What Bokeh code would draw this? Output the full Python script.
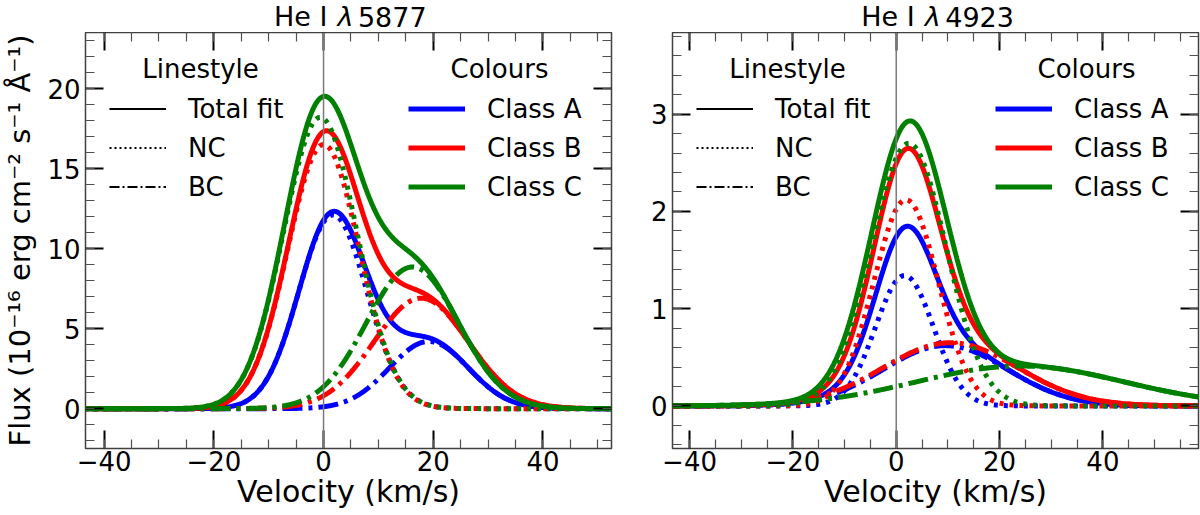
import numpy as np
from bokeh.plotting import figure
from bokeh.layouts import row, column
from bokeh.models import (Range1d, FixedTicker, LinearAxis, Span, Label,
                          Legend, LegendItem, CustomJSTickFormatter)
from bokeh.embed import file_html
from bokeh.resources import INLINE

FONT = "DejaVu Sans"

class_names = ["Class A", "Class B", "Class C"]
class_colors = ["#0000ff", "#ff0000", "#008000"]
style_names = ["Total fit", "NC", "BC"]

# Gaussian fit components for each class:
# amplitude (1e-16 erg cm-2 s-1 A-1), centre and width (km/s)
# He I 5877
nc_amp_5877 = [12.1, 16.5, 18.2]
nc_cen_5877 = [1.7, 0.0, -0.6]
nc_sig_5877 = [6.2, 6.5, 6.7]
bc_amp_5877 = [4.2, 6.9, 8.85]
bc_cen_5877 = [19.2, 17.8, 16.2]
bc_sig_5877 = [7.2, 8.6, 8.4]

# He I 4923
nc_amp_4923 = [1.34, 2.12, 2.70]
nc_cen_4923 = [1.6, 1.9, 2.45]
nc_sig_4923 = [5.6, 6.2, 7.2]
bc_amp_4923 = [0.62, 0.65, 0.41]
bc_cen_4923 = [9.5, 10.5, 24.0]
bc_sig_4923 = [12.0, 13.0, 20.0]

x_ticks = [-40, -20, 0, 20, 40]
x_tick_labels = ["\u221240", "\u221220", "0", "20", "40"]
y_ticks_5877 = [0, 5, 10, 15, 20]
y_tick_labels_5877 = ["0", "5", "10", "15", "20"]
y_ticks_4923 = [0, 1, 2, 3]
y_tick_labels_4923 = ["0", "1", "2", "3"]

velocity = np.linspace(-60, 75, 1351)


def gaussian(v, amp, cen, sig):
    return amp * np.exp(-0.5 * ((v - cen) / sig) ** 2)


def style_axis(ax, ticks, minor, labels=None):
    ax.ticker = FixedTicker(ticks=ticks, minor_ticks=minor)
    ax.axis_line_color = None
    ax.major_tick_in = 18
    ax.major_tick_out = 0
    ax.minor_tick_in = 9
    ax.minor_tick_out = 0
    ax.major_tick_line_color = "black"
    ax.major_tick_line_width = 2
    ax.minor_tick_line_color = "#505050"
    ax.minor_tick_line_width = 1.2
    if labels is None:
        ax.formatter = CustomJSTickFormatter(code="return ''")
        ax.major_label_text_font_size = "0px"
        ax.major_label_standoff = 0
    else:
        ax.major_label_overrides = {t: s for t, s in zip(ticks, labels)}
        ax.major_label_text_font = FONT
        ax.major_label_text_font_size = "26px"
        ax.major_label_text_color = "black"


def make_panel(width, border_left, border_right, x_lim, y_lim,
               y_ticks, y_labels, y_minor, fit, y_label=None):
    p = figure(width=width, height=483,
               x_range=Range1d(*x_lim), y_range=Range1d(*y_lim),
               output_backend="svg", toolbar_location=None,
               min_border_left=border_left, min_border_right=border_right,
               min_border_top=0, min_border_bottom=67,
               background_fill_color="white", border_fill_color="white",
               outline_line_color="#404040", outline_line_width=1.5)
    p.grid.visible = False
    p.add_layout(LinearAxis(), "above")
    p.add_layout(LinearAxis(), "right")

    x_minor = list(range(-45, 60, 5))
    bottom, top = p.below[0], p.above[0]
    left, right = p.left[0], p.right[0]
    style_axis(bottom, x_ticks, x_minor, x_tick_labels)
    style_axis(top, x_ticks, x_minor)
    style_axis(left, y_ticks, y_minor, y_labels)
    style_axis(right, y_ticks, y_minor)
    bottom.major_label_standoff = 2
    left.major_label_standoff = 5

    bottom.axis_label = "Velocity (km/s)"
    bottom.axis_label_standoff = 0
    bottom.axis_label_text_font = FONT
    bottom.axis_label_text_font_size = "30px"
    bottom.axis_label_text_font_style = "normal"
    bottom.axis_label_text_color = "black"
    if y_label:
        left.axis_label = y_label
        left.axis_label_standoff = 7
        left.axis_label_text_font = FONT
        left.axis_label_text_font_size = "29px"
        left.axis_label_text_font_style = "normal"
        left.axis_label_text_color = "black"

    nc_amp, nc_cen, nc_sig, bc_amp, bc_cen, bc_sig = fit
    for i, color in enumerate(class_colors):
        nc = gaussian(velocity, nc_amp[i], nc_cen[i], nc_sig[i])
        bc = gaussian(velocity, bc_amp[i], bc_cen[i], bc_sig[i])
        p.line(velocity, nc + bc, line_color=color, line_width=5)
        p.line(velocity, nc, line_color=color, line_width=5, line_dash="4 6")
        p.line(velocity, bc, line_color=color, line_width=5, line_dash="20 6 4 6")

    p.add_layout(Span(location=0, dimension="height", line_color="#7a7a7a",
                      line_width=1.5))

    # legend swatches: renderers that hold no visible points
    style_dash = ["solid", "2 3", "10 3 2 3"]
    ls_items = []
    for name, dash in zip(style_names, style_dash):
        r = p.line(x=[np.nan], y=[np.nan], line_color="black", line_width=2,
                   line_dash=dash)
        ls_items.append(LegendItem(label=name, renderers=[r]))
    col_items = []
    for name, color in zip(class_names, class_colors):
        r = p.line(x=[np.nan], y=[np.nan], line_color=color, line_width=5)
        col_items.append(LegendItem(label=name, renderers=[r]))

    for items, lx in ((ls_items, 24), (col_items, 323)):
        leg = Legend(items=items, location=(lx, 246), orientation="vertical",
                     glyph_width=57, glyph_height=31, label_height=31,
                     spacing=8, padding=0, margin=0, label_standoff=22,
                     label_text_font=FONT, label_text_font_size="26px",
                     label_text_color="black", border_line_color=None,
                     background_fill_alpha=0)
        p.add_layout(leg)

    for text, hx in (("Linestyle", 115), ("Colours", 414)):
        p.add_layout(Label(x=hx, y=380, x_units="screen", y_units="screen",
                           text=text, text_align="center",
                           text_baseline="middle", text_font=FONT,
                           text_font_size="26px", text_color="black"))
    return p


fit_5877 = (nc_amp_5877, nc_cen_5877, nc_sig_5877, bc_amp_5877, bc_cen_5877, bc_sig_5877)
fit_4923 = (nc_amp_4923, nc_cen_4923, nc_sig_4923, bc_amp_4923, bc_cen_4923, bc_sig_4923)

p1 = make_panel(640, 83, 29, (-43.4, 52.5), (-2.49, 23.5),
                y_ticks_5877, y_tick_labels_5877, list(range(-2, 24)),
                fit_5877,
                y_label="Flux (10\u207b\u00b9\u2076 erg cm\u207b\u00b2 s\u207b\u00b9 \u00c5\u207b\u00b9)")
p2 = make_panel(560, 32, 2, (-43.3, 58.5), (-0.438, 3.84),
                y_ticks_4923, y_tick_labels_4923,
                [round(-0.4 + 0.2 * k, 1) for k in range(22)],
                fit_4923)

# strip above the panels carrying the two line titles (He I, italic lambda, wavelength)
heading = figure(width=1200, height=32, title=None,
                 x_range=Range1d(0, 1200), y_range=Range1d(0, 32),
                 x_axis_location=None, y_axis_location=None,
                 output_backend="svg", toolbar_location=None,
                 min_border_left=0, min_border_right=0, min_border_top=0,
                 min_border_bottom=0, outline_line_color=None,
                 background_fill_color="white", border_fill_color="white")
heading.grid.visible = False
for centre, line_name in ((347.2, "5877"), (934.5, "4923")):
    start = centre - 73.8
    parts = [("He \u2160", "normal", 0.0), ("\u03bb", "italic", 63.6),
             (line_name, "normal", 84.0)]
    for text, style, dx in parts:
        heading.add_layout(Label(x=start + dx, y=16, text=text, text_align="left",
                                 text_baseline="middle", text_font=FONT,
                                 text_font_style=style, text_font_size="27px",
                                 text_color="black"))

layout = column(heading, row(p1, p2))
open("out.html", "w").write(file_html(layout, INLINE))
